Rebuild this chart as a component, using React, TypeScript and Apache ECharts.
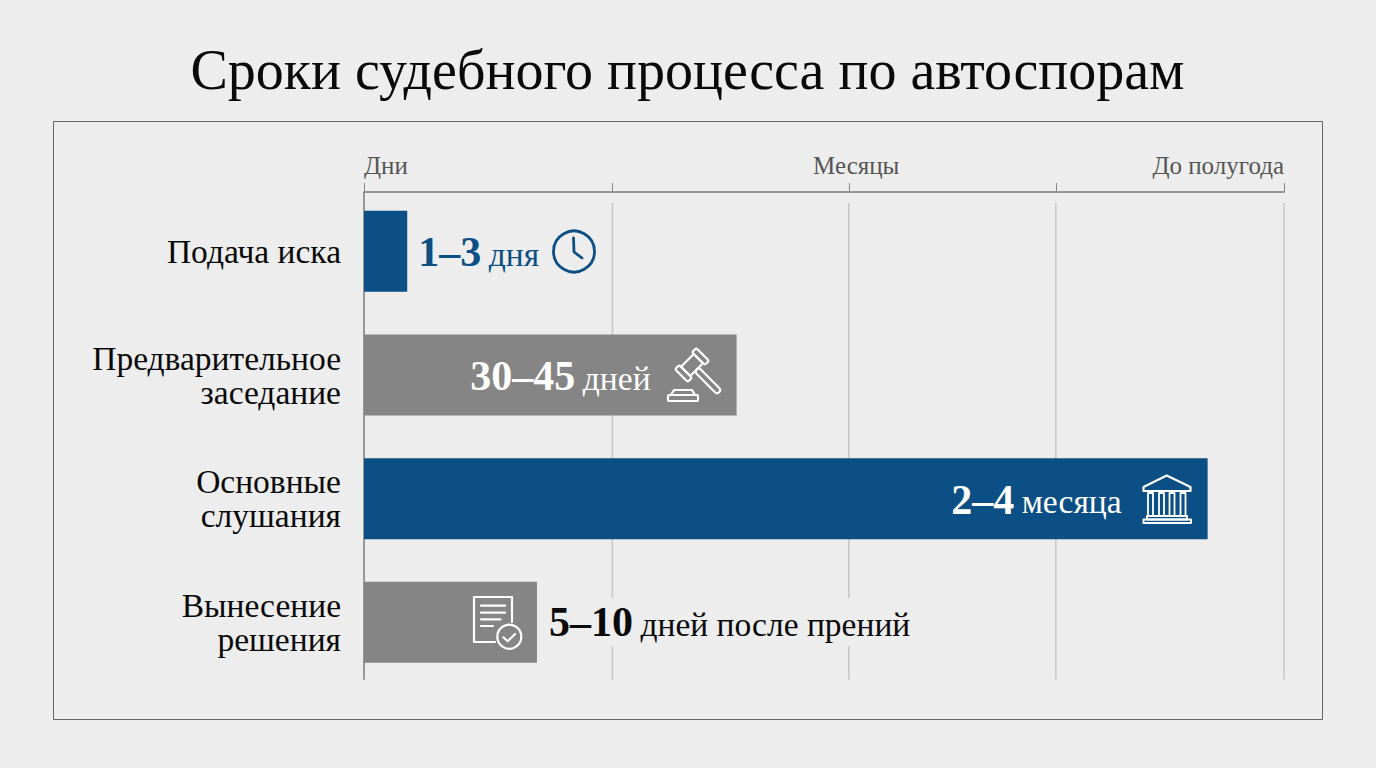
import React, { useEffect, useRef } from "react";
import * as echarts from "echarts";

const titleText = "Сроки судебного процесса по автоспорам";
const categories = ["Подача иска", "Предварительное\nзаседание", "Основные\nслушания", "Вынесение\nрешения"];
const barValues = [4.7, 40.5, 91.7, 18.8];
const rangeLabels = ["1–3", "30–45", "2–4", "5–10"];
const unitLabels = ["дня", "дней", "месяца", "дней после прений"];
const gridValues = [0, 27, 52.7, 75.2, 100];
const headerValues = [0, 53.5, 100];
const headerLabels = ["Дни", "Месяцы", "До полугода"];

const BLUE = "#0b4f84";
const GRAY = "#858585";
const BG = "#ededed";
const FONT = "'Liberation Serif', serif";

const barColors = [BLUE, GRAY, BLUE, GRAY];
const labelInside = [false, true, true, false];
const labelColors = [BLUE, "#ffffff", "#ffffff", "#0a0a0a"];

function stroke(color: string, lineWidth = 2.2) {
  return { stroke: color, lineWidth, fill: "transparent", lineCap: "round", lineJoin: "round" };
}
function line(x1: number, y1: number, x2: number, y2: number, color: string, w = 2.2) {
  return { type: "line", shape: { x1, y1, x2, y2 }, style: stroke(color, w), z: 20 };
}
function box(x: number, y: number, width: number, height: number, color: string, w = 2.2, r = 0) {
  return { type: "rect", shape: { x, y, width, height, r }, style: stroke(color, w), z: 20 };
}

const clockIcon = [
  { type: "circle", shape: { cx: 574, cy: 251.5, r: 20.5 }, style: stroke(BLUE, 2.8), z: 20 },
  { type: "polyline", shape: { points: [[573.5, 238], [574, 252], [582, 258]] }, style: stroke(BLUE, 2.8), z: 20 },
];

const gavelIcon = [
  {
    type: "group",
    x: 692,
    y: 365,
    rotation: -Math.PI / 4,
    z: 20,
    children: [
      box(-6.5, -9, 13, 18, "#fff"),
      box(-9, -15, 18, 6, "#fff", 2.2, 2),
      box(-9, 9, 18, 6, "#fff", 2.2, 2),
      box(6.5, -3, 32, 6, "#fff", 2.2, 3),
    ],
  },
  { type: "polyline", shape: { points: [[671, 395], [674, 390], [692, 390], [695, 395]] }, style: stroke("#fff"), z: 20 },
  box(668, 395, 30, 6, "#fff", 2.2, 1),
];

const bankIcon = [
  { type: "polygon", shape: { points: [[1166.7, 475.5], [1143.5, 487], [1143.5, 491], [1190.5, 491], [1190.5, 487]] }, style: stroke("#fff"), z: 20 },
  box(1148, 493, 5, 23, "#fff", 1.8),
  box(1159, 493, 5, 23, "#fff", 1.8),
  box(1169.5, 493, 5, 23, "#fff", 1.8),
  box(1180.5, 493, 5, 23, "#fff", 1.8),
  box(1147, 516, 40, 3.5, "#fff", 2),
  box(1143.5, 519.5, 47.5, 3.5, "#fff", 2),
];

const docIcon = [
  { type: "polyline", shape: { points: [[512, 622], [512, 597], [474, 597], [474, 642], [495, 642]] }, style: stroke("#fff"), z: 20 },
  line(481, 605.7, 505, 605.7, "#fff"),
  line(481, 612.7, 505, 612.7, "#fff"),
  line(481, 619.3, 500.5, 619.3, "#fff"),
  line(481, 626, 493, 626, "#fff"),
  { type: "circle", shape: { cx: 509.3, cy: 636.7, r: 12 }, style: stroke("#fff"), z: 20 },
  { type: "polyline", shape: { points: [[503.3, 637.3], [507.7, 641.3], [515, 634]] }, style: stroke("#fff"), z: 20 },
];

export default function App() {
  const ref = useRef<HTMLDivElement>(null);
  useEffect(() => {
    document.body.style.margin = "0";
    document.body.style.background = BG;
    const chart = echarts.init(ref.current!, null, { renderer: "svg" });
    chart.setOption({
      animation: false,
      backgroundColor: BG,
      title: {
        text: titleText,
        left: 682.5,
        top: 37,
        textAlign: "center",
        textStyle: { fontFamily: FONT, fontSize: 56, fontWeight: "normal", color: "#0a0a0a" },
      },
      grid: { left: 364, width: 920, top: 189.5, height: 494.7 },
      xAxis: {
        type: "value",
        position: "top",
        offset: -2.5,
        min: 0,
        max: 100,
        splitLine: { show: false },
        axisLine: { show: true, lineStyle: { color: "#7a7a7a", width: 1.5 } },
        axisTick: { show: true, length: 9, customValues: gridValues, lineStyle: { color: "#8a8a8a", width: 1 } },
        axisLabel: {
          show: true,
          margin: 14,
          customValues: headerValues,
          alignMinLabel: "left",
          alignMaxLabel: "right",
          fontFamily: FONT,
          fontSize: 25,
          color: "#555555",
          formatter: (v: number) => headerLabels[headerValues.indexOf(v)] ?? "",
        },
      },
      yAxis: {
        type: "category",
        inverse: true,
        data: categories,
        axisLine: { show: false },
        axisTick: { show: false },
        axisLabel: {
          margin: 23,
          align: "right",
          fontFamily: FONT,
          fontSize: 33.5,
          lineHeight: 34,
          color: "#0a0a0a",
        },
      },
      series: [
        {
          type: "custom",
          z: 1,
          silent: true,
          data: gridValues.map((v) => [v]),
          encode: { x: 0 },
          renderItem: (params: any, api: any) => {
            const v = api.value(0);
            const x = api.coord([v, 0])[0];
            const cs = params.coordSys;
            const isZero = v === 0;
            return {
              type: "line",
              shape: { x1: x, y1: cs.y + (isZero ? 2.5 : 13.5), x2: x, y2: cs.y + cs.height - 4.5 },
              style: { stroke: isZero ? "#7a7a7a" : "#c6c6c6", lineWidth: 1.5 },
            };
          },
        },
        {
          type: "bar",
          z: 2,
          barWidth: 81,
          data: barValues.map((value, i) => ({
            value,
            itemStyle: { color: barColors[i] },
            label: {
              show: true,
              position: labelInside[i] ? "insideRight" : "right",
              distance: labelInside[i] ? 86 : i === 0 ? 11 : 12,
              backgroundColor: i === 3 ? BG : "transparent",
              padding: i === 3 ? [1, 0, 3, 0] : 0,
              formatter: () => `{b|${rangeLabels[i]}}{s| }{u|${unitLabels[i]}}`,
              rich: {
                b: { fontFamily: FONT, fontSize: 42, fontWeight: "bold", color: labelColors[i], lineHeight: 44, verticalAlign: "bottom" },
                s: { fontFamily: FONT, fontSize: 30, color: labelColors[i], lineHeight: 44, verticalAlign: "bottom" },
                u: { fontFamily: FONT, fontSize: 33.5, color: labelColors[i], lineHeight: 44, verticalAlign: "bottom", padding: [0, 0, 2, 0] },
              },
            },
          })),
        },
      ],
      graphic: [
        { type: "rect", shape: { x: 53.5, y: 121.5, width: 1269, height: 598 }, style: { fill: "transparent", stroke: "#666666", lineWidth: 1 }, z: 0 },
        ...clockIcon,
        ...gavelIcon,
        ...bankIcon,
        ...docIcon,
      ],
    });
    return () => chart.dispose();
  }, []);
  return <div ref={ref} style={{ position: "absolute", left: 0, top: 0, width: 1376, height: 768 }} />;
}
